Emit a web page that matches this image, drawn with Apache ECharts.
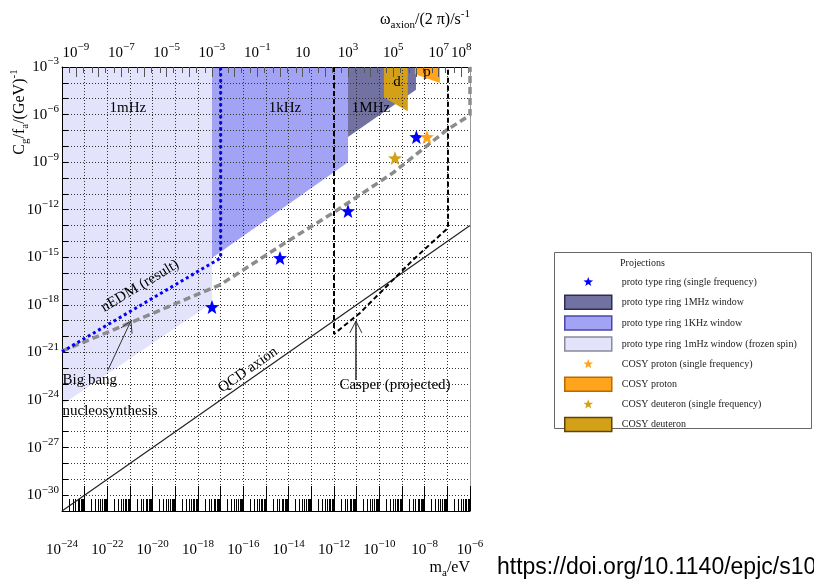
<!DOCTYPE html>
<html>
<head>
<meta charset="utf-8">
<title>Axion-gluon coupling projections</title>
<script src="https://cdn.jsdelivr.net/npm/echarts@6.0.0/dist/echarts.min.js"></script>
<style>
html, body { margin: 0; padding: 0; background: #fff; }
#main { width: 814px; height: 579px; }
</style>
</head>
<body>
<div id="main"></div>
<script>
// x: m_a / eV, y: C_g/f_a / (GeV)^-1
var H_EVS = 4.135667e-15;   // Planck constant in eV s, top axis = m_a / h

var ringStars = [[4.14e-18, 7.4e-19], [4.14e-15, 9.1e-16], [4.14e-12, 8.3e-13], [4.3e-9, 3.9e-8]];
var protonStars = [[1.26e-8, 3.9e-8]];
var deuteronStars = [[4.9e-10, 1.8e-9]];

// filled windows (polygon corners)
var ring1mHz = [[1e-24, 1e-3], [4.14e-18, 1e-3], [4.14e-18, 1.3e-18], [1e-24, 5e-25]];
var ring1kHz = [[4.14e-18, 1e-3], [4.14e-12, 1e-3], [4.14e-12, 1e-9], [4.14e-18, 9.1e-16]];
var ring1MHz = [[4.14e-12, 1e-3], [4.14e-9, 1e-3], [4.14e-9, 3.7e-5], [4.14e-12, 3.9e-8]];
var cosyDeuteron = [[1.6e-10, 1e-3], [1.8e-9, 1e-3], [1.8e-9, 1.6e-6], [1.6e-10, 1.2e-5]];
var cosyProton = [[3.7e-9, 1e-3], [4.7e-8, 1e-3], [4.7e-8, 9.8e-5], [3.7e-9, 3.6e-4]];

// curves
var nedmLine = [[1e-24, 1.1e-21], [1e-17, 9.1e-16], [1e-17, 1e-3]];
var bbnLine = [[1e-24, 1.2e-21], [1.23e-21, 8.3e-20], [9.3e-18, 1.8e-17], [5e-15, 6e-15],
               [8.9e-13, 6.2e-13], [4e-10, 2.1e-10], [9.5e-8, 1.07e-7], [1e-6, 9.3e-7], [1e-6, 1e-3]];
var casperLine = [[1e-12, 1e-3], [1e-12, 1.45e-20], [1.4e-11, 3.1e-19], [3.04e-9, 6.8e-16],
                  [1.07e-7, 7.1e-14], [1.07e-7, 1e-3]];
var qcdLine = [[1e-24, 1e-31], [1e-6, 1e-13]];

// annotation arrows
var bbnArrow = [[1.07e-22, 7.9e-23], [1.1e-21, 9.8e-20]];
var bbnArrowHead = [[4e-22, 3.5e-20], [1.1e-21, 9.8e-20], [1.23e-21, 1.5e-20]];
var casperArrow = [[9.3e-12, 1.8e-23], [9.3e-12, 9.5e-20]];
var casperArrowHead = [[5e-12, 1.7e-20], [9.3e-12, 9.5e-20], [1.7e-11, 1.7e-20]];

// text labels inside the plot
var noteText = ['1mHz', '1kHz', '1MHz', 'd', 'p', 'nEDM (result)', 'Big bang', 'nucleosynthesis', 'QCD axion', 'Casper (projected)'];
var noteX = [8.1e-22, 6.9e-15, 4.3e-11, 6e-10, 1.26e-8, 2.75e-21, 1e-24, 1e-24, 1.6e-16, 4.9e-10];
var noteY = [2.6e-6, 2.6e-6, 2.6e-6, 1.1e-4, 5e-4, 1.55e-17, 1.8e-23, 2e-25, 7.9e-23, 8.9e-24];
var noteRotate = [0, 0, 0, 0, 0, 31, 0, 0, 35, 0];
var notePos = ['inside', 'inside', 'inside', 'inside', 'inside', 'inside', 'right', 'right', 'inside', 'inside'];

// tick values
var massLabels = [1e-24, 1e-22, 1e-20, 1e-18, 1e-16, 1e-14, 1e-12, 1e-10, 1e-8, 1e-6];
var freqLabels = [1e-9, 1e-7, 1e-5, 1e-3, 1e-1, 10, 1e3, 1e5, 1e7, 1e8];
var couplingLabels = [1e-3, 1e-6, 1e-9, 1e-12, 1e-15, 1e-18, 1e-21, 1e-24, 1e-27, 1e-30];

var massDecades = [], massMinor = [], freqDecades = [], freqMinor = [], couplingDecades = [];
for (var n = -24; n <= -6; n++) {
    massDecades.push(Math.pow(10, n));
    if (n < -6) {
        for (var k = 2; k <= 9; k++) massMinor.push(k * Math.pow(10, n));
    }
}
for (var n = -10; n <= 8; n++) {
    if (n >= -9) freqDecades.push(Math.pow(10, n));
    freqMinor.push(2 * Math.pow(10, n));
    freqMinor.push(5 * Math.pow(10, n));
}
for (var n = -31; n <= -3; n++) couplingDecades.push(Math.pow(10, n));

var SERIF = "'Liberation Serif', 'DejaVu Serif', serif";
var NAME_RING = 'proto type ring (single frequency)';
var NAME_1MHZ = 'proto type ring 1MHz window';
var NAME_1KHZ = 'proto type ring 1KHz window';
var NAME_1mHZ = 'proto type ring 1mHz window (frozen spin)';
var NAME_PSTAR = 'COSY proton (single frequency)';
var NAME_P = 'COSY proton';
var NAME_DSTAR = 'COSY deuteron (single frequency)';
var NAME_D = 'COSY deuteron';

var STAR_PATH = 'M50,14L58.8,37.9L84.2,38.9L64.3,54.6L71.2,79.1L50,65L28.8,79.1L35.7,54.6L15.8,38.9L41.2,37.9Z';
var starSymbol = 'path://' + STAR_PATH;
var smallStar = 'path://M0,0M100,100' + STAR_PATH;

var powRich = {
    b: { fontFamily: SERIF, fontSize: 15, lineHeight: 22, color: '#000' },
    s: { fontFamily: SERIF, fontSize: 11, lineHeight: 12, verticalAlign: 'top', color: '#000' }
};
var nameRich = {
    b: { fontFamily: SERIF, fontSize: 16, lineHeight: 22, color: '#000' },
    sb: { fontFamily: SERIF, fontSize: 11, lineHeight: 12, verticalAlign: 'bottom', color: '#000' },
    sp: { fontFamily: SERIF, fontSize: 11, lineHeight: 12, verticalAlign: 'top', color: '#000' }
};

function powLabel(v) {
    var e = Math.round(Math.log10(v));
    if (e === 1) return '{b|10}';
    return '{b|10}{s|' + (e < 0 ? '\u2212' + (-e) : e) + '}';
}

function logAxis(opt) {
    var base = {
        type: 'log', logBase: 10, z: 2,
        axisLine: { show: false, onZero: false },
        axisTick: { show: false },
        axisLabel: { show: false },
        splitLine: { show: false },
        minorTick: { show: false }
    };
    for (var key in opt) base[key] = opt[key];
    return base;
}

function regionSeries(name, pts, color, border) {
    return {
        name: name,
        type: 'custom',
        z: 1,
        silent: true,
        itemStyle: { color: color, borderColor: border, borderWidth: 1 },
        data: pts,
        renderItem: function (params, api) {
            if (params.dataIndex !== 0) return null;
            var poly = pts.map(function (p) { return api.coord(p); });
            return { type: 'polygon', shape: { points: poly }, style: { fill: color } };
        }
    };
}

function curve(data, color, width, type, clip) {
    return {
        type: 'line', data: data, symbol: 'none', showSymbol: false, silent: true, z: 3,
        clip: clip !== false,
        lineStyle: { color: color, width: width, type: type }
    };
}

function starSeries(name, data, color) {
    return {
        name: name, type: 'scatter', symbol: starSymbol, symbolSize: 14, z: 5, silent: true,
        itemStyle: { color: color, opacity: 1 }, data: data
    };
}

var myChart = echarts.init(document.getElementById('main'));

var notes = noteText.map(function (t, i) {
    return {
        value: [noteX[i], noteY[i]],
        label: { show: true, formatter: t, rotate: noteRotate[i], position: notePos[i] }
    };
});

myChart.setOption({
    animation: false,
    backgroundColor: '#fff',
    grid: { left: 62, right: 344, top: 67, bottom: 68, containLabel: false, outerBoundsMode: 'none' },
    xAxis: [
        logAxis({
            position: 'bottom', min: 1e-24, max: 1e-6,
            axisLine: { show: true, onZero: false, lineStyle: { color: '#000', width: 1 } },
            axisTick: { show: true, inside: true, length: 25, customValues: massDecades, lineStyle: { color: '#000', width: 1 } },
            axisLabel: { show: true, customValues: massLabels, formatter: powLabel, margin: 28, rich: powRich },
            splitLine: { show: true, lineStyle: { color: '#333', width: 1, type: [1, 2] } }
        }),
        logAxis({
            position: 'bottom', min: 1e-24, max: 1e-6,
            axisTick: { show: true, inside: true, length: 12, customValues: massMinor, lineStyle: { color: '#000', width: 1 } }
        }),
        logAxis({
            position: 'top', min: 1e-24 / H_EVS, max: 1e-6 / H_EVS,
            axisLine: { show: true, onZero: false, lineStyle: { color: '#000', width: 1 } },
            axisTick: { show: true, inside: true, length: 10, customValues: freqDecades, lineStyle: { color: '#555', width: 1 } },
            axisLabel: { show: true, customValues: freqLabels, formatter: powLabel, margin: 3, rich: powRich }
        }),
        logAxis({
            position: 'top', min: 1e-24 / H_EVS, max: 1e-6 / H_EVS,
            axisTick: { show: true, inside: true, length: 6, customValues: freqMinor, lineStyle: { color: '#555', width: 1 } }
        })
    ],
    yAxis: [
        logAxis({
            position: 'left', min: 1e-31, max: 1e-3,
            axisLine: { show: true, onZero: false, lineStyle: { color: '#000', width: 1 } },
            axisTick: { show: true, inside: true, length: 6, customValues: couplingDecades, lineStyle: { color: '#000', width: 1 } },
            axisLabel: { show: true, customValues: couplingLabels, formatter: powLabel, margin: 3, rich: powRich },
            splitLine: { show: true, lineStyle: { color: '#333', width: 1, type: [1, 2] } }
        }),
        logAxis({
            position: 'right', min: 1e-31, max: 1e-3,
            axisLine: { show: true, onZero: false, lineStyle: { color: '#999', width: 1 } }
        })
    ],
    legend: {
        orient: 'vertical', left: 564, top: 275, padding: 0,
        itemWidth: 47, itemHeight: 14, itemGap: 5.4, selectedMode: false,
        textStyle: { fontFamily: SERIF, fontSize: 10, color: '#222', padding: [0, 0, 0, 5] },
        data: [
            { name: NAME_RING, icon: smallStar, itemStyle: { color: '#0000ff', borderWidth: 0 } },
            { name: NAME_1MHZ, icon: 'rect', itemStyle: { color: '#7272a2', borderColor: '#2c2c50', borderWidth: 1.5 } },
            { name: NAME_1KHZ, icon: 'rect', itemStyle: { color: '#a3a3f6', borderColor: '#4848a8', borderWidth: 1.5 } },
            { name: NAME_1mHZ, icon: 'rect', itemStyle: { color: '#e3e3fb', borderColor: '#8a8a9a', borderWidth: 1.5 } },
            { name: NAME_PSTAR, icon: smallStar, itemStyle: { color: '#ffa41c', borderWidth: 0 } },
            { name: NAME_P, icon: 'rect', itemStyle: { color: '#ffa41c', borderColor: '#b86a00', borderWidth: 1.5 } },
            { name: NAME_DSTAR, icon: smallStar, itemStyle: { color: '#d4a017', borderWidth: 0 } },
            { name: NAME_D, icon: 'rect', itemStyle: { color: '#d4a017', borderColor: '#5c4408', borderWidth: 1.5 } }
        ]
    },
    graphic: [
        { type: 'rect', shape: { x: 554.5, y: 252.5, width: 257, height: 176 }, style: { fill: 'none', stroke: '#666', lineWidth: 1 }, silent: true },
        { type: 'text', x: 620, y: 263, style: { text: 'Projections', fontFamily: SERIF, fontSize: 10, fill: '#222', verticalAlign: 'middle' }, silent: true },
        { type: 'text', x: 470, y: 20, style: { text: '{b|\u03c9}{sb|axion}{b|/(2 \u03c0)/s}{sp|-1}', rich: nameRich, align: 'right', verticalAlign: 'middle' }, silent: true },
        { type: 'text', x: 470, y: 568, style: { text: '{b|m}{sb|a}{b|/eV}', rich: nameRich, align: 'right', verticalAlign: 'middle' }, silent: true },
        { type: 'text', x: 20, y: 112, rotation: Math.PI / 2, style: { text: '{b|C}{sb|g}{b|/f}{sb|a}{b|/(GeV)}{sp|-1}', rich: nameRich, align: 'center', verticalAlign: 'middle' }, silent: true },
        { type: 'text', x: 497, y: 568, style: { text: 'https://doi.org/10.1140/epjc/s10052', fontFamily: "'Liberation Sans', Arial, sans-serif", fontSize: 23, fill: '#000', verticalAlign: 'middle' }, silent: true }
    ],
    series: [
        regionSeries(NAME_1mHZ, ring1mHz, '#e3e3fb', '#8a8a9a'),
        regionSeries(NAME_1KHZ, ring1kHz, '#a3a3f6', '#4848a8'),
        regionSeries(NAME_1MHZ, ring1MHz, '#7272a2', '#2c2c50'),
        regionSeries(NAME_D, cosyDeuteron, '#d4a017', '#5c4408'),
        regionSeries(NAME_P, cosyProton, '#ffa41c', '#b86a00'),
        curve(qcdLine, '#222', 1.2, 'solid'),
        curve(bbnLine, '#8c8c8c', 3.5, [7, 4], false),
        curve(nedmLine, '#0000ff', 3, [3, 3]),
        curve(casperLine, '#000', 2, [5, 3]),
        curve(bbnArrow, '#333', 1, 'solid'),
        curve(bbnArrowHead, '#333', 1, 'solid'),
        curve(casperArrow, '#333', 1.5, 'solid'),
        curve(casperArrowHead, '#333', 1, 'solid'),
        starSeries(NAME_RING, ringStars, '#0000ff'),
        starSeries(NAME_PSTAR, protonStars, '#ffa41c'),
        starSeries(NAME_DSTAR, deuteronStars, '#d4a017'),
        {
            type: 'scatter', symbolSize: 1, z: 6, silent: true, clip: false,
            itemStyle: { color: 'rgba(0,0,0,0)', opacity: 1 },
            label: { show: true, fontFamily: SERIF, fontSize: 15, color: '#000', opacity: 1, distance: 0, textBorderWidth: 0 },
            data: notes
        }
    ]
});
</script>
</body>
</html>
